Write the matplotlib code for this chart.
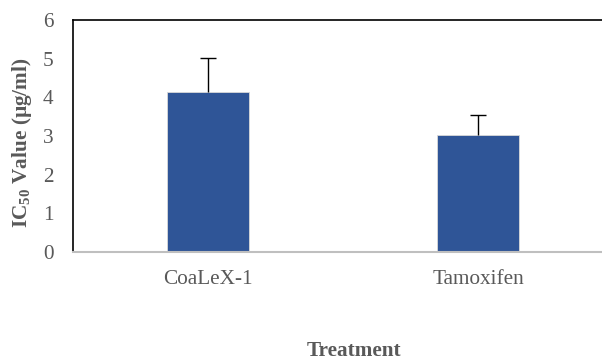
import matplotlib
matplotlib.use("Agg")
import matplotlib.pyplot as plt

# valeurs
treatments = ["CoaLeX-1", "Tamoxifen"]
ic50 = [4.14, 3.03]
err_up = [0.88, 0.51]

plt.rcParams["font.family"] = ["Liberation Serif", "DejaVu Serif"]
plt.rcParams["mathtext.fontset"] = "custom"
plt.rcParams["mathtext.rm"] = "Liberation Serif"
plt.rcParams["mathtext.bf"] = "Liberation Serif:bold"

grey = "#595959"
fs = 15.3

fig = plt.figure(figsize=(6.02, 3.6), dpi=100)
ax = fig.add_axes([73 / 602, 1 - 252 / 360, 540 / 602, 232 / 360])

x = list(range(len(treatments)))
ax.bar(x, ic50, width=0.307, color="#2F5597", edgecolor="#D9D9D9", linewidth=0.6, zorder=2)
_, caps, _ = ax.errorbar(x, ic50, yerr=[[0] * len(x), err_up], fmt="none", ecolor="black",
                         elinewidth=1.0, capsize=6, capthick=1.0, zorder=3)
caps[0].set_visible(False)  # pas de barre du bas

ax.set_xlim(-0.5, 1.5)
ax.set_ylim(0, 6)
ax.set_yticks(range(0, 7))
ax.set_xticks(x)
ax.set_xticklabels(treatments)
ax.tick_params(axis="both", length=0, labelsize=fs, colors=grey)
ax.tick_params(axis="y", pad=14)
ax.tick_params(axis="x", pad=13)

ax.spines["left"].set_color("black")
ax.spines["left"].set_linewidth(1.2)
ax.spines["top"].set_color("black")
ax.spines["top"].set_linewidth(1.2)
ax.spines["right"].set_visible(False)
ax.spines["bottom"].set_color("#BFBFBF")
ax.spines["bottom"].set_linewidth(1.5)

fig.text(22 / 602, 1 - 143 / 360, r"IC$_{\mathbf{50}}$ Value (µg/ml)", rotation=90,
         ha="center", va="center", fontsize=fs, fontweight="bold", color=grey)
fig.text(354 / 602, 1 - 351 / 360, "Treatment", ha="center", va="center",
         fontsize=fs, fontweight="bold", color=grey)

fig.savefig("out.png", dpi=100)
